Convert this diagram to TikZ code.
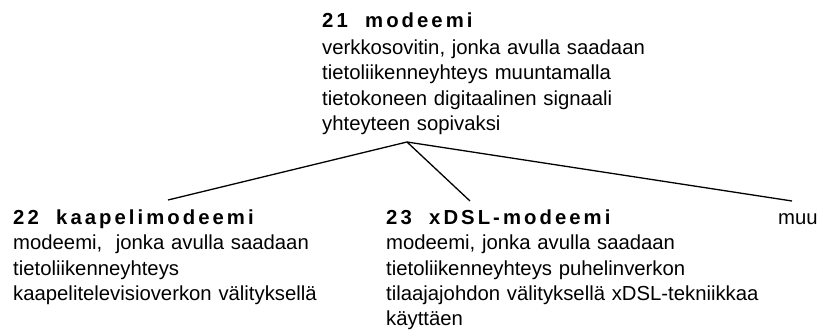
\documentclass[tikz,border=0pt]{standalone}
\usepackage{fontspec}
\setmainfont{Liberation Sans}
\newfontfamily\headfont[LetterSpace=15]{Liberation Sans}
\begin{document}
\begin{tikzpicture}[x=1pt,y=-1pt,
  termtitle/.style={anchor=base west,inner sep=0pt,font=\headfont\bfseries\fontsize{20.3}{25}\selectfont},
  termbody/.style={anchor=base west,inner sep=0pt,text width=#1,align=left,
    font=\fontsize{20.3}{25.3}\selectfont},
  branch/.style={line width=1.3pt}]
\useasboundingbox (0,0) rectangle (825,336);

% broader term
\node[termtitle] (t21) at (322,27.5) {21\ \ modeemi};
\node[termbody=340pt] (d21) at (322,54.5) {verkkosovitin, jonka avulla saadaan\\
  tietoliikenneyhteys muuntamalla\\
  tietokoneen digitaalinen signaali\\
  yhteyteen sopivaksi};

% narrower terms
\node[termtitle] (t22) at (13,225) {22\ \ kaapelimodeemi};
\node[termbody=360pt] (d22) at (13,250) {modeemi,\ \ jonka avulla saadaan\\
  tietoliikenneyhteys\\
  kaapelitelevisioverkon välityksellä};

\node[termtitle] (t23) at (386,225) {23\ \ xDSL-modeemi};
\node[termbody=420pt] (d23) at (386,250) {modeemi, jonka avulla saadaan\\
  tietoliikenneyhteys puhelinverkon\\
  tilaajajohdon välityksellä xDSL-tekniikkaa\\
  käyttäen};

\node[anchor=base west,inner sep=0pt,font=\fontsize{20.3}{25}\selectfont] (muu) at (778,225) {muu};

% tree connectors
\coordinate (hub) at (407,142);
\coordinate (e22) at (168,200);
\coordinate (e23) at (470,201);
\coordinate (emuu) at (792,201);
\draw[branch] (hub) -- (e22);
\draw[branch] (hub) -- (e23);
\draw[branch] (hub) -- (emuu);
\end{tikzpicture}
\end{document}
